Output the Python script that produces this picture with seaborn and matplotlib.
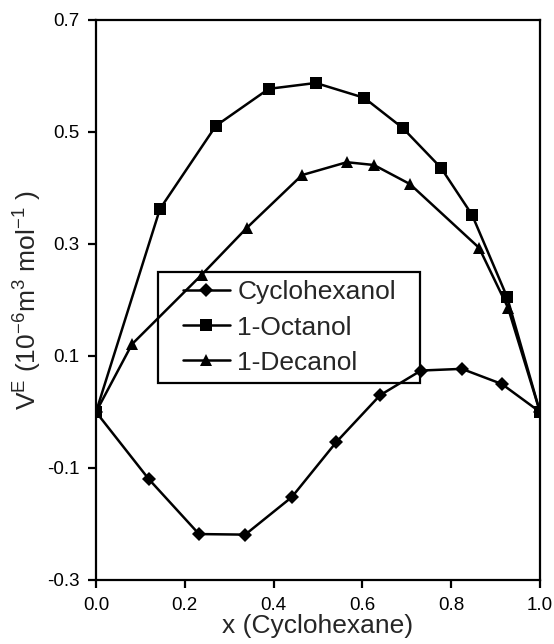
import numpy as np
import pandas as pd
import matplotlib
matplotlib.use("Agg")
import matplotlib.pyplot as plt
from matplotlib.patches import Rectangle
import seaborn as sns

# data
x_cyclohexanol = [0.0, 0.119, 0.232, 0.336, 0.441, 0.541, 0.640, 0.732, 0.824, 0.914, 1.0]
v_cyclohexanol = [0.0, -0.120, -0.218, -0.219, -0.152, -0.054, 0.030, 0.074, 0.077, 0.050, 0.0]

x_octanol = [0.0, 0.144, 0.270, 0.389, 0.495, 0.604, 0.691, 0.777, 0.847, 0.926, 1.0]
v_octanol = [0.0, 0.3625, 0.511, 0.577, 0.5875, 0.561, 0.507, 0.436, 0.352, 0.205, 0.0]

x_decanol = [0.0, 0.081, 0.238, 0.340, 0.464, 0.565, 0.626, 0.707, 0.863, 0.928, 1.0]
v_decanol = [0.0, 0.121, 0.245, 0.329, 0.423, 0.446, 0.441, 0.407, 0.293, 0.186, 0.0]

series_names = ["Cyclohexanol", "1-Octanol", "1-Decanol"]
x_ticks = [0.0, 0.2, 0.4, 0.6, 0.8, 1.0]
y_ticks = [-0.3, -0.1, 0.1, 0.3, 0.5, 0.7]

df = pd.concat([
    pd.DataFrame({"x": x_cyclohexanol, "v": v_cyclohexanol, "s": series_names[0]}),
    pd.DataFrame({"x": x_octanol, "v": v_octanol, "s": series_names[1]}),
    pd.DataFrame({"x": x_decanol, "v": v_decanol, "s": series_names[2]}),
], ignore_index=True)

sns.set_style("ticks")
plt.rcParams["font.family"] = ["Liberation Sans", "DejaVu Sans"]
plt.rcParams["mathtext.fontset"] = "custom"
plt.rcParams["mathtext.rm"] = "Liberation Sans"
plt.rcParams["mathtext.it"] = "Liberation Sans"

fig = plt.figure(figsize=(5.54, 6.44), dpi=100)
ax = fig.add_axes([0.1733, 0.0994, 0.8014, 0.8696])

sns.lineplot(data=df, x="x", y="v", hue="s", style="s",
             hue_order=series_names, style_order=series_names,
             palette=["black"] * 3,
             markers={"Cyclohexanol": "D", "1-Octanol": "s", "1-Decanol": "^"},
             dashes=False, sort=False, estimator=None,
             linewidth=1.8, markersize=8.5, markeredgewidth=0, ax=ax)

for line in ax.get_lines():
    if line.get_marker() == "D":
        line.set_markersize(7)

ax.set_xlim(0.0, 1.0)
ax.set_ylim(-0.3, 0.7)
ax.set_xticks(x_ticks)
ax.set_yticks(y_ticks)
ax.set_xticklabels([f"{t:.1f}" for t in x_ticks])
ax.set_yticklabels([f"{t:.1f}" for t in y_ticks])
ax.tick_params(direction="out", length=6, width=1.6, labelsize=13.5,
               colors="black", pad=6)

for sp in ax.spines.values():
    sp.set_visible(True)
    sp.set_linewidth(1.6)
    sp.set_color("black")

ax.set_xlabel("x (Cyclohexane)", fontsize=19, labelpad=0)
ax.set_ylabel(r"V$^{\mathregular{E}}$ (10$^{\mathregular{-6}}$m$^{\mathregular{3}}$ mol$^{\mathregular{-1}}$ )",
              fontsize=19, labelpad=2)

leg = ax.legend(loc="upper left", bbox_to_anchor=(0.176, 0.55), borderaxespad=0,
                fontsize=19, frameon=False, handlelength=1.8, handletextpad=0.27,
                labelspacing=0.42, borderpad=0.32)
for lh in leg.get_lines():
    lh.set_linewidth(1.8)

# legend frame, widened horizontally like the reference
fig.canvas.draw()
bb = leg.get_window_extent()
padx = 16
inv = fig.transFigure.inverted()
(x0, y0), (x1, y1) = inv.transform([(bb.x0 - padx, bb.y0), (bb.x1 + padx, bb.y1)])
fig.add_artist(Rectangle((x0, y0), x1 - x0, y1 - y0, transform=fig.transFigure,
                         fill=False, edgecolor="black", linewidth=1.6, zorder=5))

fig.savefig("out.png", dpi=100)
